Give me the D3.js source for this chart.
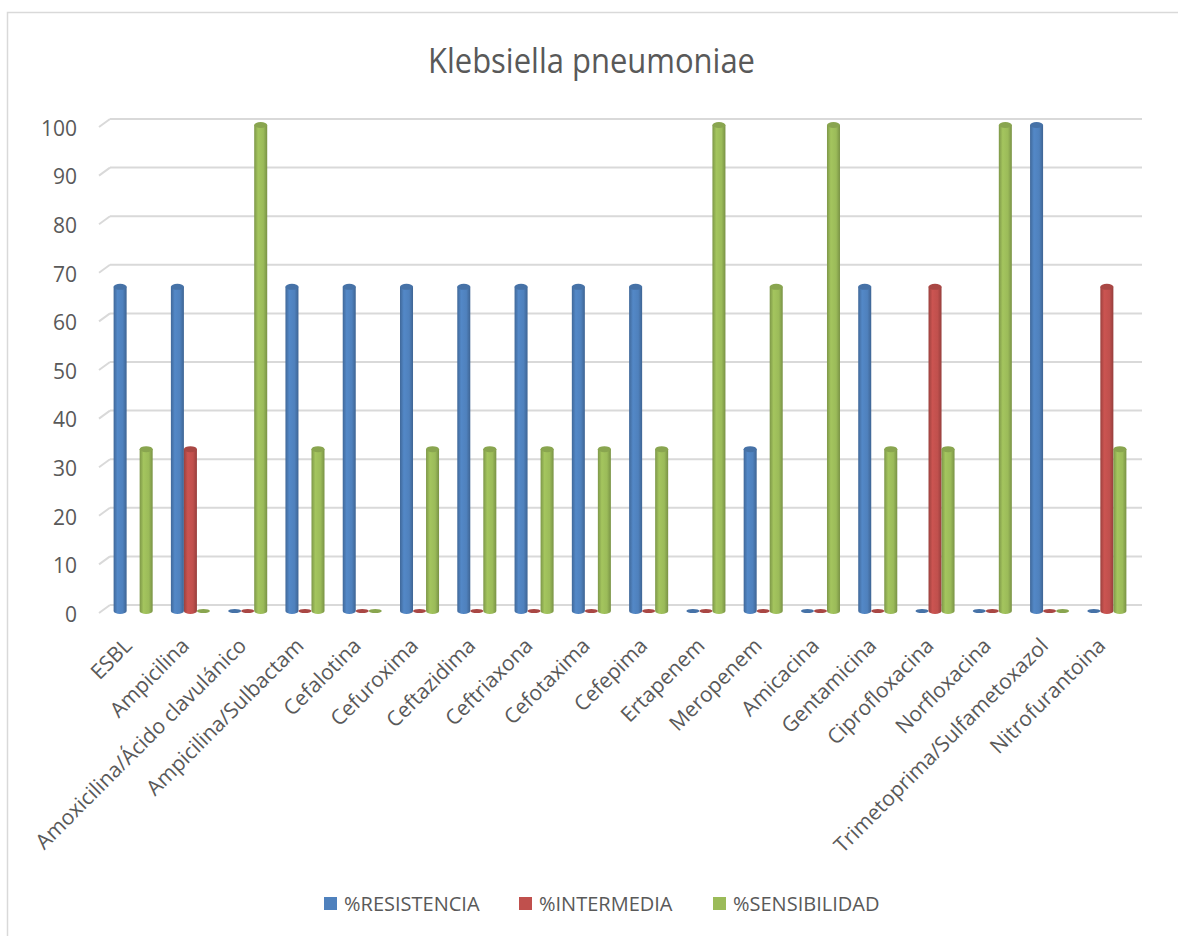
<!DOCTYPE html>
<html><head><meta charset="utf-8">
<script src="https://cdn.jsdelivr.net/npm/d3@7"></script>
<style>body{margin:0;background:#fff;}svg{display:block;font-family:"Open Sans",sans-serif;}</style>
</head><body>
<svg id="chart" width="1178" height="936"></svg>
<script>
const categories = ["ESBL","Ampicilina","Amoxicilina/Ácido clavulánico","Ampicilina/Sulbactam","Cefalotina","Cefuroxima","Ceftazidima","Ceftriaxona","Cefotaxima","Cefepima","Ertapenem","Meropenem","Amicacina","Gentamicina","Ciprofloxacina","Norfloxacina","Trimetoprima/Sulfametoxazol","Nitrofurantoina"];
const resistencia = [66.7,66.7,0,66.7,66.7,66.7,66.7,66.7,66.7,66.7,0,33.3,0,66.7,0,0,100,0];
const intermedia  = [null,33.3,0,0,0,0,0,0,0,0,0,0,0,0,66.7,0,0,66.7];
const sensibilidad= [33.3,0,100,33.3,0,33.3,33.3,33.3,33.3,33.3,100,66.7,100,33.3,33.3,100,0,33.3];
const seriesNames = ["%RESISTENCIA","%INTERMEDIA","%SENSIBILIDAD"];
const seriesColors = ["#4F81BD","#C0504D","#9BBB59"];
const yTicks = [0,10,20,30,40,50,60,70,80,90,100];
const series = [resistencia, intermedia, sensibilidad];

const svg = d3.select("#chart");
const defs = svg.append("defs");
seriesColors.forEach((c,i)=>{
  const g = defs.append("linearGradient").attr("id","grad"+i).attr("x1","0%").attr("x2","100%");
  const base = d3.color(c);
  g.append("stop").attr("offset","0%").attr("stop-color",base.darker(0.6));
  g.append("stop").attr("offset","30%").attr("stop-color",base.brighter(0.15));
  g.append("stop").attr("offset","70%").attr("stop-color",base);
  g.append("stop").attr("offset","100%").attr("stop-color",base.darker(0.7));
});

// chart frame
svg.append("rect").attr("x",7.5).attr("y",12.5).attr("width",1190).attr("height",940)
  .attr("fill","#fff").attr("stroke","#d9d9d9").attr("stroke-width",1.5);

const x0 = d3.scaleBand().domain(categories).range([104.5,1135.5]).paddingInner(0).paddingOuter(0);
const x1 = d3.scaleBand().domain([0,1,2]).range([0,x0.bandwidth()]).paddingInner(0).paddingOuter(0.7);
const y = d3.scaleLinear().domain([0,100]).range([611,125]);

const wallOff = 6;
// gridlines on back wall
const grid = svg.append("g");
yTicks.forEach(t=>{
  const yy = y(t);
  grid.append("line").attr("x1",110).attr("x2",1142).attr("y1",yy-wallOff).attr("y2",yy-wallOff)
    .attr("stroke","#d9d9d9").attr("stroke-width",2);
  grid.append("line").attr("x1",99).attr("x2",110).attr("y1",yy+2).attr("y2",yy-wallOff)
    .attr("stroke","#d9d9d9").attr("stroke-width",2);
});

// y axis labels
const yAxis = d3.axisLeft(y).tickValues(yTicks).tickSize(0).tickPadding(0);
const ya = svg.append("g").attr("transform","translate(77,3.5)").call(yAxis);
ya.select(".domain").remove();
ya.selectAll("text").attr("font-size","21px").attr("fill","#595959").attr("font-family","Open Sans, sans-serif");

// bars (cylinders)
const bw = x1.bandwidth();
const barW = bw;
const ry = 3;
categories.forEach((cat,ci)=>{
  series.forEach((s,si)=>{
    const v = s[ci];
    if (v===null || v===undefined) return;
    const cx = x0(cat) + x1(si) + bw/2;
    const y0 = y(0), yt = y(v);
    const g = svg.append("g");
    if (v>0) {
      g.append("path")
        .attr("d",`M${cx-barW/2},${yt} L${cx-barW/2},${y0} A${barW/2},${ry} 0 0 0 ${cx+barW/2},${y0} L${cx+barW/2},${yt} Z`)
        .attr("fill",`url(#grad${si})`);
      g.append("ellipse").attr("cx",cx).attr("cy",yt).attr("rx",barW/2).attr("ry",ry)
        .attr("fill",d3.color(seriesColors[si]).darker(0.35));
    } else {
      g.append("ellipse").attr("cx",cx).attr("cy",y0).attr("rx",barW/2).attr("ry",2)
        .attr("fill",d3.color(seriesColors[si]).darker(0.35));
    }
  });
});

// title
svg.append("text").attr("x",428).attr("y",73)
  .attr("font-size","35px").attr("fill","#595959")
  .attr("textLength",327).attr("lengthAdjust","spacingAndGlyphs").text("Klebsiella pneumoniae");

// category labels
const xl = svg.append("g");
categories.forEach(cat=>{
  const cx = x0(cat) + x0.bandwidth()/2;
  xl.append("text").attr("transform",`translate(${cx},${647}) rotate(-45)`)
    .attr("text-anchor","end").attr("font-size","21px").attr("fill","#595959").text(cat);
});

// legend
const legendX = [324,519,713];
seriesNames.forEach((n,i)=>{
  svg.append("rect").attr("x",legendX[i]).attr("y",897).attr("width",13).attr("height",13).attr("fill",seriesColors[i]);
  svg.append("text").attr("x",legendX[i]+20).attr("y",911).attr("font-size","20px").attr("fill","#595959").text(n);
});
</script>
</body></html>
